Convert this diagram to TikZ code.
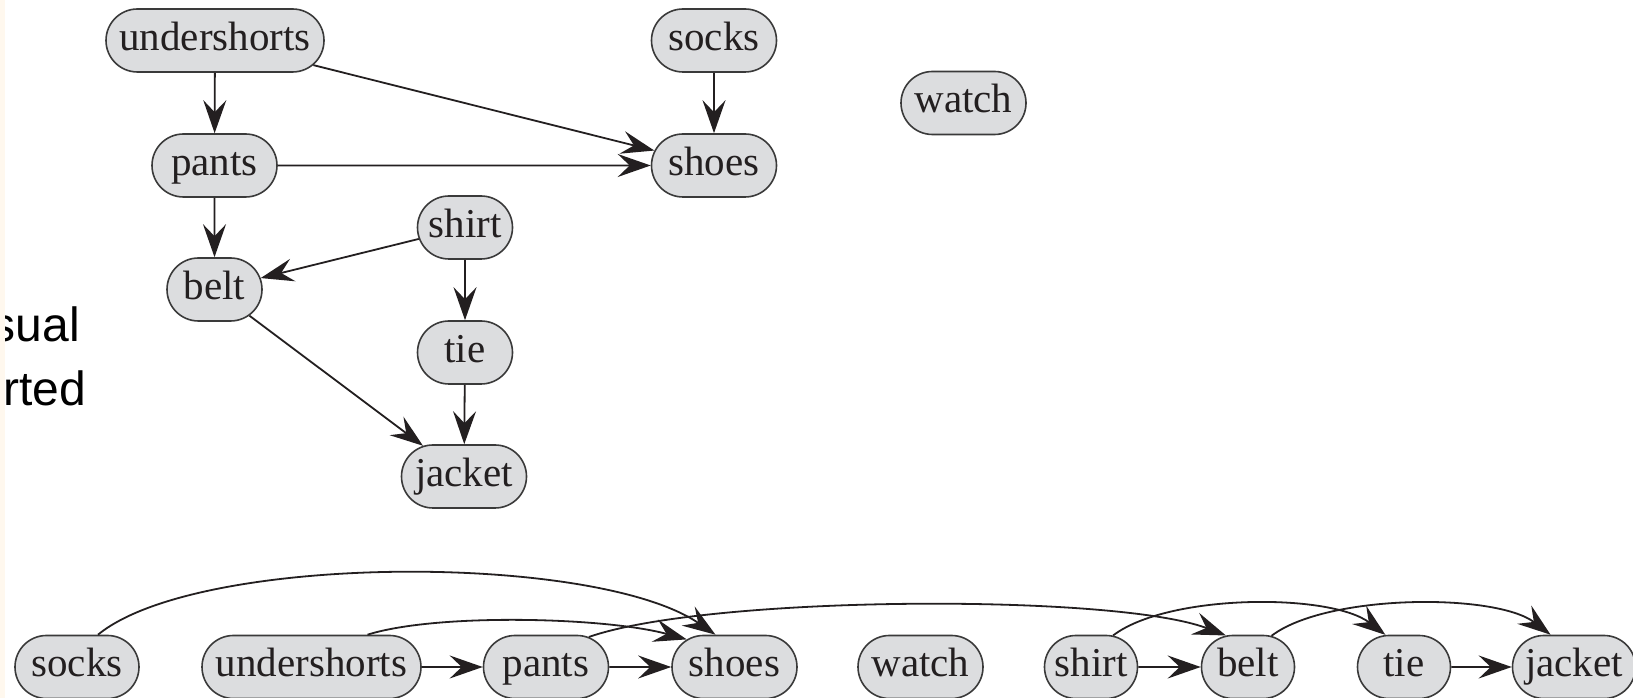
\documentclass[tikz,border=0pt]{standalone}
\usepackage{fontspec}
\setmainfont{Liberation Serif}
\newfontfamily\slidefont{Liberation Sans}
\usetikzlibrary{shapes.misc,arrows.meta}
\definecolor{nodefill}{HTML}{DCDDDF}
\definecolor{nodeline}{HTML}{3A3A3A}
\definecolor{edgecol}{HTML}{231F20}
\definecolor{stripcol}{HTML}{FFF8EE}

\begin{document}
\begin{tikzpicture}[x=1pt,y=1pt,
  vert/.style={rounded rectangle, draw=nodeline, line width=1.6pt, fill=nodefill,
    minimum height=63pt, inner xsep=0pt, inner ysep=0pt,
    text height=28pt, text depth=8pt, text=edgecol,
    font=\fontsize{41}{49}\selectfont},
  nw/.style={minimum width=95pt},
  mw/.style={minimum width=125pt},
  ww/.style={minimum width=218pt},
  arr/.style={draw=edgecol, line width=1.8pt,
    -{Stealth[length=33pt,width=23pt,inset=12pt]}},
  slide/.style={font=\slidefont\fontsize{48}{58}\selectfont,
    anchor=base east, inner sep=0pt}
]
\useasboundingbox (0,0) rectangle (1633,698);
\fill[white] (0,0) rectangle (1633,698);

% slide text running off the left edge
\node[slide] (w1) at (80,356) {sual};
\node[slide] (w2) at (86,292) {rted};

% dependency graph
\node[vert,ww] (us) at (215,657.5) {undershorts};
\node[vert,mw] (pa) at (214.5,532.5) {pants};
\node[vert,nw] (be) at (214.5,408.5) {belt};
\node[vert,nw] (sh) at (465,470.5) {shirt};
\node[vert,nw] (ti) at (465,345.5) {tie};
\node[vert,mw] (ja) at (464,221.5) {jacket};
\node[vert,mw] (so) at (714,657.5) {socks};
\node[vert,mw] (se) at (714,532.5) {shoes};
\node[vert,mw] (wa) at (963.5,595) {watch};

\draw[arr] (us) -- (pa);
\draw[arr] (us) -- (se);
\draw[arr] (pa) -- (se);
\draw[arr] (so) -- (se);
\draw[arr] (pa) -- (be);
\draw[arr] (sh) -- (be);
\draw[arr] (sh) -- (ti);
\draw[arr] (be) -- (ja);
\draw[arr] (ti) -- (ja);

% topologically sorted order
\node[vert,minimum width=124pt] (so2) at (77,31) {socks};
\node[vert,minimum width=219pt] (us2) at (311.5,31) {undershorts};
\node[vert,mw] (pa2) at (546,31) {pants};
\node[vert,mw] (se2) at (734.5,31) {shoes};
\node[vert,mw] (wa2) at (920.5,31) {watch};
\node[vert,minimum width=93pt] (sh2) at (1091,31) {shirt};
\node[vert,minimum width=93pt] (be2) at (1248,31) {belt};
\node[vert,minimum width=93pt] (ti2) at (1404,31) {tie};
\node[vert,minimum width=123pt] (ja2) at (1574,31) {jacket};

\draw[arr] (us2) -- (pa2);
\draw[arr] (pa2) -- (se2);
\draw[arr] (sh2) -- (be2);
\draw[arr] (ti2) -- (ja2);

\draw[arr] ([xshift=21pt]so2.north) .. controls +(100,82) and +(-120,82) .. ([xshift=-19pt]se2.north);
\draw[arr] ([xshift=56pt]us2.north) .. controls +(70,22) and +(-80,22) .. (se2.150);
\draw[arr] (pa2.35) .. controls +(120,42) and +(-110,42) .. (be2.125);
\draw[arr] (sh2.55) .. controls +(55,42) and +(-55,42) .. (ti2.120);
\draw[arr] (be2.53) .. controls +(55,42) and +(-55,42) .. (ja2.126);

% page edge strip
\fill[stripcol] (0,0) rectangle (5,698);
\end{tikzpicture}
\end{document}
